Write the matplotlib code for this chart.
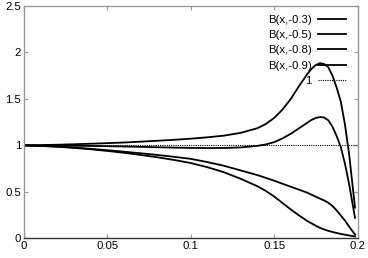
import matplotlib
matplotlib.use("Agg")
import matplotlib.pyplot as plt

x = [0, 0.01, 0.02, 0.03, 0.04, 0.05, 0.06, 0.07, 0.08, 0.09, 0.10,
     0.11, 0.12, 0.13, 0.14, 0.145, 0.15, 0.155, 0.16, 0.165, 0.17,
     0.1725, 0.175, 0.1775, 0.18, 0.1825, 0.185, 0.1875, 0.19, 0.1925,
     0.195, 0.1985]

# B(x,-0.9): tall peak
b_09 = [1.0, 1.003, 1.007, 1.012, 1.018, 1.024, 1.031, 1.04, 1.05, 1.06, 1.072,
        1.087, 1.105, 1.135, 1.185, 1.23, 1.295, 1.385, 1.50, 1.64, 1.77,
        1.825, 1.865, 1.885, 1.875, 1.84, 1.75, 1.62, 1.47, 1.22,
        0.90, 0.33]

# B(x,-0.8): smaller peak
b_08 = [1.0, 0.999, 0.998, 0.996, 0.994, 0.991, 0.988, 0.984, 0.98, 0.976, 0.973,
        0.971, 0.972, 0.978, 0.995, 1.01, 1.035, 1.075, 1.125, 1.185, 1.245,
        1.275, 1.295, 1.305, 1.30, 1.27, 1.20, 1.10, 0.98, 0.80,
        0.58, 0.22]

# B(x,-0.5): shoulder near 0.18
b_05 = [1.0, 0.995, 0.988, 0.977, 0.963, 0.948, 0.932, 0.915, 0.897, 0.877, 0.855,
        0.82, 0.78, 0.73, 0.68, 0.65, 0.62, 0.587, 0.555, 0.523, 0.49,
        0.468, 0.447, 0.427, 0.407, 0.382, 0.347, 0.30, 0.245, 0.19,
        0.125, 0.04]

# B(x,-0.3): lowest curve
b_03 = [1.0, 0.994, 0.985, 0.973, 0.958, 0.94, 0.92, 0.897, 0.872, 0.843, 0.81,
        0.765, 0.71, 0.64, 0.56, 0.51, 0.45, 0.38, 0.31, 0.245, 0.185,
        0.16, 0.135, 0.112, 0.095, 0.08, 0.068, 0.057, 0.047, 0.038,
        0.03, 0.02]

labels = ["B(x,-0.3)", "B(x,-0.5)", "B(x,-0.8)", "B(x,-0.9)"]
series = [b_03, b_05, b_08, b_09]

xticks = [0, 0.05, 0.1, 0.15, 0.2]
xtick_labels = ["0", "0.05", "0.1", "0.15", "0.2"]
yticks = [0, 0.5, 1, 1.5, 2, 2.5]
ytick_labels = ["0", "0.5", "1", "1.5", "2", "2.5"]

plt.rcParams["font.family"] = ["Liberation Sans", "DejaVu Sans"]

fig = plt.figure(figsize=(3.68, 2.58), dpi=100)
ax = fig.add_axes([0.0652, 0.0764, 0.9063, 0.9003])

for lab, ys in zip(labels, series):
    ax.plot(x, ys, color="black", lw=1.3, label=lab)
ax.plot([0, 0.2], [1, 1], color="black", lw=0.8, linestyle=(0, (1, 1)), label="1")

ax.set_xlim(0, 0.2)
ax.set_ylim(0, 2.5)
ax.set_xticks(xticks)
ax.set_xticklabels(xtick_labels)
ax.set_yticks(yticks)
ax.set_yticklabels(ytick_labels)
ax.tick_params(direction="in", length=3, width=0.8, color="#999999",
               labelsize=8.2, pad=2, top=True, right=True)

for side in ["left", "top", "right"]:
    ax.spines[side].set_color("#999999")
ax.spines["bottom"].set_color("#333333")
for s in ax.spines.values():
    s.set_linewidth(1.0)

ax.legend(loc="upper right", bbox_to_anchor=(0.99, 0.995), frameon=False,
          markerfirst=False, fontsize=8.2, handlelength=2.45,
          handletextpad=0.6, labelspacing=0.45, borderpad=0.2)

fig.savefig("out.png", dpi=100)
